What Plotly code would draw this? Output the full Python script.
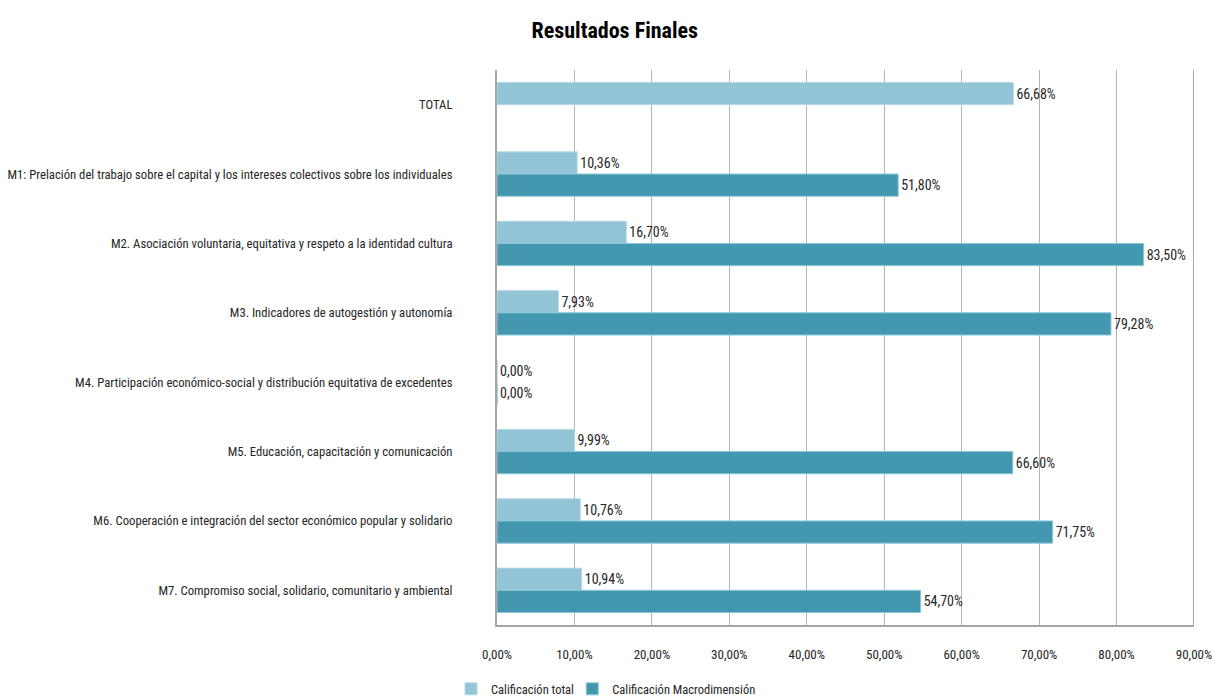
import plotly.graph_objects as go

categorias = [
    "TOTAL",
    "M1: Prelación del trabajo sobre el capital y los intereses colectivos sobre los individuales",
    "M2. Asociación voluntaria, equitativa y respeto a la identidad cultura",
    "M3. Indicadores de autogestión y autonomía",
    "M4. Participación económico-social y distribución equitativa de excedentes",
    "M5. Educación, capacitación y comunicación",
    "M6. Cooperación e integración del sector económico popular y solidario",
    "M7. Compromiso social, solidario, comunitario y ambiental",
]
calificacion_total = [0.6668, 0.1036, 0.1670, 0.0793, 0.0, 0.0999, 0.1076, 0.1094]
calificacion_macro = [None, 0.5180, 0.8350, 0.7928, 0.0, 0.6660, 0.7175, 0.5470]
ticks_x = [0.0, 0.1, 0.2, 0.3, 0.4, 0.5, 0.6, 0.7, 0.8, 0.9]

FONT = "Liberation Sans Narrow, Roboto Condensed, Arial Narrow, Liberation Sans, sans-serif"
TEXT = "#262626"


def etiqueta(v):
    return "" if v is None else f"{v * 100:.2f}%".replace(".", ",")


fig = go.Figure()
fig.add_trace(go.Bar(
    y=categorias, x=calificacion_total, orientation="h",
    name="Calificación total", legend="legend",
    marker=dict(color="#93C4D5", line=dict(color="#B5DAE6", width=1)),
    text=[etiqueta(v) for v in calificacion_total],
    textposition="outside", cliponaxis=False,
    textfont=dict(family=FONT, size=14, color=TEXT),
))
fig.add_trace(go.Bar(
    y=categorias, x=calificacion_macro, orientation="h",
    name="Calificación Macrodimensión", legend="legend2",
    marker=dict(color="#4398B0", line=dict(color="#8CC6D8", width=1)),
    text=[etiqueta(v) for v in calificacion_macro],
    textposition="outside", cliponaxis=False,
    textfont=dict(family=FONT, size=14, color=TEXT),
))

legend_style = dict(orientation="h", xref="container", yref="container",
                    xanchor="left", y=0.014, yanchor="middle",
                    font=dict(family=FONT, size=12.5, color=TEXT),
                    itemwidth=30, bgcolor="rgba(0,0,0,0)")

fig.update_layout(
    width=1215, height=699,
    margin=dict(l=497, r=21, t=70, b=74, autoexpand=False),
    paper_bgcolor="white", plot_bgcolor="white",
    separators=",.",
    barmode="group", bargap=0.36, bargroupgap=0,
    font=dict(family=FONT, size=13, color=TEXT),
    title=dict(text="<b>Resultados Finales</b>", x=0.506, xanchor="center",
               y=0.957, yanchor="middle",
               font=dict(family=FONT, size=22, color="#000000")),
    legend=dict(x=0.3712, **legend_style),
    legend2=dict(x=0.471, **legend_style),
    showlegend=True,
)
fig.update_xaxes(
    range=[0, 0.9], tickvals=ticks_x, tickformat=".2%",
    showgrid=True, gridcolor="#B3B3B3", gridwidth=1,
    showline=True, linecolor="#A6A6A6", linewidth=2, mirror=False,
    ticks="", ticklabelstandoff=16, zeroline=False, automargin=False,
    tickfont=dict(family=FONT, size=13, color=TEXT),
)
fig.update_yaxes(
    categoryorder="array", categoryarray=categorias, autorange="reversed",
    showline=True, linecolor="#A6A6A6", linewidth=2,
    showgrid=False, ticks="", ticklabelstandoff=40, automargin=False,
    tickfont=dict(family=FONT, size=12.7, color=TEXT),
)
# right border at 90%
fig.add_shape(type="line", xref="x", yref="paper", x0=0.9, x1=0.9, y0=0, y1=1,
              line=dict(color="#A6A6A6", width=2))

fig.write_html("out.html")
